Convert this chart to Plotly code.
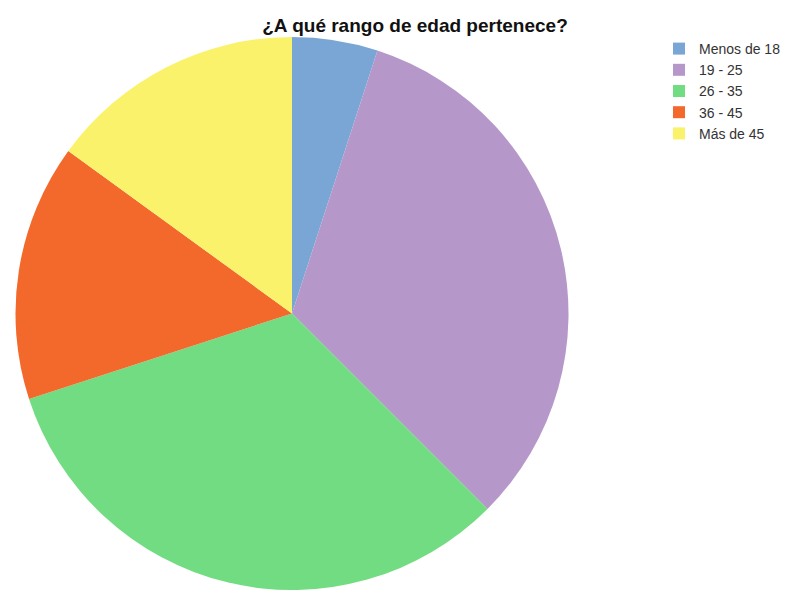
import plotly.graph_objects as go

# Survey responses by age group
categories = ["Menos de 18", "19 - 25", "26 - 35", "36 - 45", "Más de 45"]
counts = [2, 13, 13, 6, 6]
colors = ["#7aa6d6", "#b598c9", "#72dc82", "#f2692b", "#fbf26b"]

W, H = 788, 590

fig = go.Figure(
    go.Pie(
        labels=categories,
        values=counts,
        sort=False,
        direction="clockwise",
        rotation=0,
        textinfo="none",
        hoverinfo="label+value+percent",
        marker=dict(colors=colors, line=dict(width=0)),
        domain=dict(x=[14 / W, 570 / W], y=[0, 1 - 37 / H]),
    )
)

fig.update_layout(
    width=W,
    height=H,
    margin=dict(l=0, r=0, t=0, b=0),
    paper_bgcolor="white",
    plot_bgcolor="white",
    title=dict(
        text="<b>¿A qué rango de edad pertenece?</b>",
        x=415 / W,
        xanchor="center",
        y=1 - 25 / H,
        yanchor="middle",
        font=dict(family="Liberation Sans, Arial, sans-serif", size=19, color="#111111"),
    ),
    legend=dict(
        x=659 / W,
        xanchor="left",
        y=1 - 33 / H,
        yanchor="top",
        font=dict(family="Liberation Sans, Arial, sans-serif", size=14, color="#333333"),
        itemwidth=30,
        bgcolor="rgba(0,0,0,0)",
        tracegroupgap=0,
    ),
)

fig.write_html("out.html")
